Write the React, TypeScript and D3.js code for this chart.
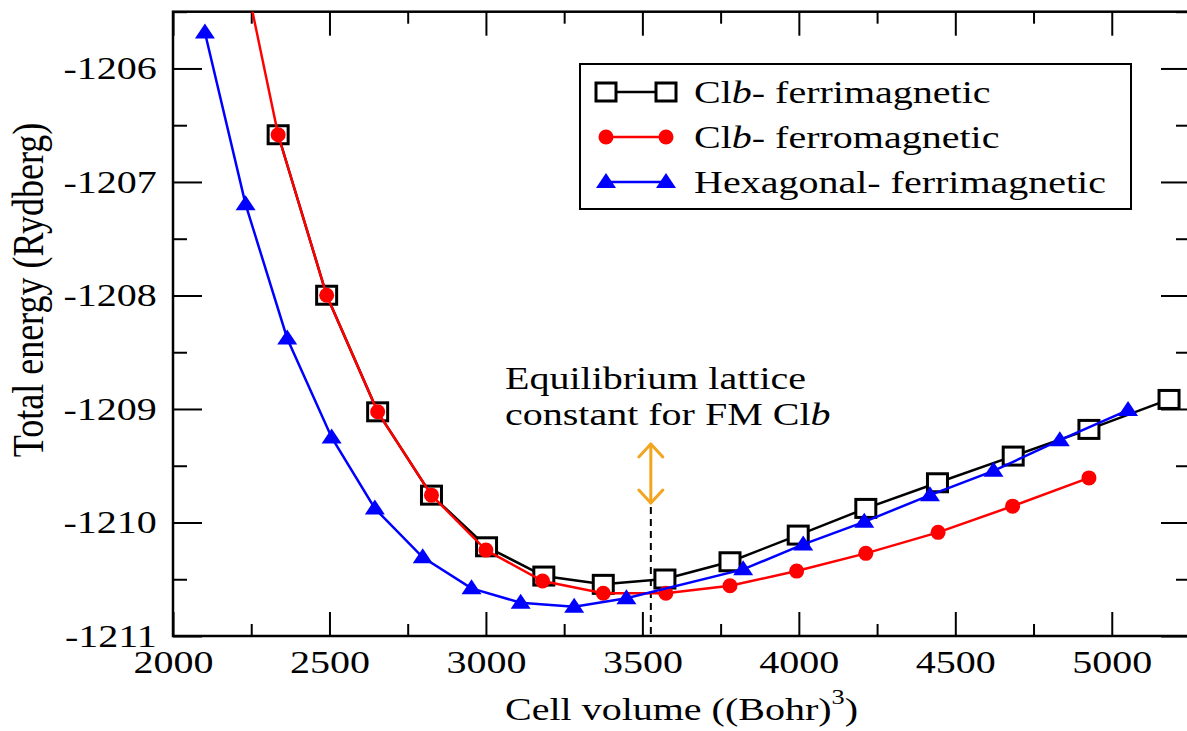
import React, { useEffect, useRef } from 'react';
import * as d3 from 'd3';

// Clb ferrimagnetic (black squares)
const ferriVolume = [2336, 2491, 2654, 2826, 3002, 3185, 3375, 3572, 3780, 3998, 4214, 4443, 4685, 4927, 5183];
const ferriEnergy = [-1206.584, -1207.998, -1209.025, -1209.759, -1210.214, -1210.472, -1210.545, -1210.498, -1210.346, -1210.111, -1209.876, -1209.65, -1209.415, -1209.18, -1208.916];

// Clb ferromagnetic (red circles)
const ferroVolume = [2170, 2336, 2491, 2654, 2826, 3000, 3181, 3375, 3575, 3780, 3993, 4214, 4445, 4683, 4927];
const ferroEnergy = [-1204.39, -1206.584, -1207.998, -1209.025, -1209.759, -1210.243, -1210.516, -1210.624, -1210.624, -1210.557, -1210.428, -1210.272, -1210.087, -1209.856, -1209.607];

// Hexagonal ferrimagnetic (blue triangles)
const hexVolume = [2102, 2232, 2365, 2507, 2645, 2798, 2954, 3111, 3282, 3449, 3822, 4014, 4209, 4419, 4622, 4834, 5052];
const hexEnergy = [-1205.683, -1207.197, -1208.379, -1209.251, -1209.876, -1210.307, -1210.58, -1210.707, -1210.742, -1210.668, -1210.413, -1210.193, -1209.994, -1209.759, -1209.545, -1209.275, -1209.01];

const xMajor = [2000, 2500, 3000, 3500, 4000, 4500, 5000];
const xMinor = [2250, 2750, 3250, 3750, 4250, 4750];
const yMajor = [-1211, -1210, -1209, -1208, -1207, -1206];
const yMinor = [-1210.5, -1209.5, -1208.5, -1207.5, -1206.5, -1205.5];

const equilibriumVolume = 3527;

const FONT = '"Liberation Serif", "Times New Roman", serif';
const STRETCH = 'scale(1.25,1)';

type Pt = { v: number; e: number };

const App: React.FC = () => {
  const ref = useRef<SVGSVGElement | null>(null);

  useEffect(() => {
    if (!ref.current) return;
    const svg = d3.select(ref.current);
    svg.selectAll('*').remove();

    const left = 173, right = 1190, top = 11.7, bottom = 636;
    const x = d3.scaleLinear().domain([2000, 5250]).range([left, right]);
    const y = d3.scaleLinear().domain([-1211, -1205.5]).range([bottom, top]);

    svg.append('defs').append('clipPath').attr('id', 'plot-clip')
      .append('rect').attr('x', left).attr('y', top).attr('width', right - left).attr('height', bottom - top);

    // axes: ticks on all four sides, labels only bottom/left
    const styleAxis = (g: d3.Selection<SVGGElement, unknown, null, undefined>) => {
      g.select('.domain').remove();
      g.selectAll('.tick line').attr('stroke', '#000').attr('stroke-width', 2);
      g.selectAll('text')
        .attr('transform', STRETCH)
        .style('font-family', FONT)
        .style('font-size', '32px')
        .attr('fill', '#000');
    };
    const plain = (d: d3.NumberValue) => String(d);

    svg.append('g').attr('transform', `translate(0,${bottom})`)
      .call(d3.axisBottom(x).tickValues(xMajor).tickSize(-24).tickPadding(14).tickFormat(plain))
      .call(styleAxis);
    svg.append('g').attr('transform', `translate(0,${bottom})`)
      .call(d3.axisBottom(x).tickValues(xMinor).tickSize(-12).tickFormat(() => ''))
      .call(styleAxis);
    svg.append('g').attr('transform', `translate(0,${top})`)
      .call(d3.axisTop(x).tickValues(xMajor).tickSize(-24).tickFormat(() => ''))
      .call(styleAxis);
    svg.append('g').attr('transform', `translate(0,${top})`)
      .call(d3.axisTop(x).tickValues(xMinor).tickSize(-12).tickFormat(() => ''))
      .call(styleAxis);

    svg.append('g').attr('transform', `translate(${left},0)`)
      .call(d3.axisLeft(y).tickValues(yMajor).tickSize(-29).tickPadding(13).tickFormat(plain))
      .call(styleAxis);
    svg.append('g').attr('transform', `translate(${left},0)`)
      .call(d3.axisLeft(y).tickValues(yMinor).tickSize(-14).tickFormat(() => ''))
      .call(styleAxis);
    svg.append('g').attr('transform', `translate(${right},0)`)
      .call(d3.axisRight(y).tickValues(yMajor).tickSize(-29).tickFormat(() => ''))
      .call(styleAxis);
    svg.append('g').attr('transform', `translate(${right},0)`)
      .call(d3.axisRight(y).tickValues(yMinor).tickSize(-14).tickFormat(() => ''))
      .call(styleAxis);

    // frame
    svg.append('rect')
      .attr('x', left).attr('y', top)
      .attr('width', right - left).attr('height', bottom - top)
      .attr('fill', 'none').attr('stroke', '#000').attr('stroke-width', 2.5);

    // dashed equilibrium marker + arrow
    const ex = x(equilibriumVolume);
    svg.append('line')
      .attr('x1', ex).attr('x2', ex).attr('y1', 507).attr('y2', bottom)
      .attr('stroke', '#000').attr('stroke-width', 2).attr('stroke-dasharray', '7,5');
    const orange = '#f2a51f';
    const arrow = svg.append('g').attr('stroke', orange).attr('stroke-width', 3).attr('fill', 'none')
      .attr('stroke-linecap', 'round').attr('stroke-linejoin', 'round');
    arrow.append('line').attr('x1', ex).attr('x2', ex).attr('y1', 444).attr('y2', 503);
    arrow.append('path').attr('d', `M${ex - 12},${457} L${ex},${444} L${ex + 12},${457}`);
    arrow.append('path').attr('d', `M${ex - 12},${490} L${ex},${503} L${ex + 12},${490}`);

    const ann = svg.append('g').style('font-family', FONT).style('font-size', '32px');
    ann.append('text').attr('transform', `translate(505,389) ${STRETCH}`).text('Equilibrium lattice');
    const t2 = ann.append('text').attr('transform', `translate(505,425) ${STRETCH}`);
    t2.append('tspan').text('constant for FM Cl');
    t2.append('tspan').style('font-style', 'italic').text('b');

    // markers
    const drawSquare = (g: any, cx: number, cy: number) =>
      g.append('rect').attr('x', cx - 10).attr('y', cy - 9).attr('width', 20).attr('height', 18)
        .attr('fill', '#fff').attr('stroke', '#000').attr('stroke-width', 3);
    const drawCircle = (g: any, cx: number, cy: number) =>
      g.append('circle').attr('cx', cx).attr('cy', cy).attr('r', 7.5).attr('fill', '#ff0000');
    const drawTri = (g: any, cx: number, cy: number) =>
      g.append('path').attr('d', `M${cx},${cy - 9} L${cx + 10},${cy + 6} L${cx - 10},${cy + 6} Z`).attr('fill', '#0000ff');

    const line = d3.line<Pt>().x((d) => x(d.v)).y((d) => y(d.e));
    const series = [
      { vol: ferriVolume, en: ferriEnergy, color: '#000', marker: drawSquare },
      { vol: ferroVolume, en: ferroEnergy, color: '#ff0000', marker: drawCircle },
      { vol: hexVolume, en: hexEnergy, color: '#0000ff', marker: drawTri },
    ];
    const plot = svg.append('g').attr('clip-path', 'url(#plot-clip)');
    series.forEach((s) => {
      const pts: Pt[] = s.vol.map((v, i) => ({ v, e: s.en[i] }));
      const g = plot.append('g');
      g.append('path').datum(pts).attr('d', line)
        .attr('fill', 'none').attr('stroke', s.color).attr('stroke-width', 2.5);
      pts.forEach((p) => s.marker(g, x(p.v), y(p.e)));
    });

    // legend
    const legend = svg.append('g');
    legend.append('rect').attr('x', 580).attr('y', 64).attr('width', 551).attr('height', 145)
      .attr('fill', '#fff').attr('stroke', '#000').attr('stroke-width', 2);
    const rows = [
      { color: '#000', marker: drawSquare, pre: 'Cl', it: 'b', post: '- ferrimagnetic' },
      { color: '#ff0000', marker: drawCircle, pre: 'Cl', it: 'b', post: '- ferromagnetic' },
      { color: '#0000ff', marker: drawTri, pre: 'Hexagonal- ferrimagnetic', it: '', post: '' },
    ];
    rows.forEach((r, i) => {
      const cy = 92 + i * 45;
      legend.append('line').attr('x1', 606).attr('x2', 666).attr('y1', cy).attr('y2', cy)
        .attr('stroke', r.color).attr('stroke-width', 2.5);
      r.marker(legend, 606, cy);
      r.marker(legend, 666, cy);
      const t = legend.append('text').attr('transform', `translate(694,${cy + 11}) ${STRETCH}`)
        .style('font-family', FONT).style('font-size', '32px');
      t.append('tspan').text(r.pre);
      if (r.it) t.append('tspan').style('font-style', 'italic').text(r.it);
      if (r.post) t.append('tspan').text(r.post);
    });

    // axis titles
    const xt = svg.append('text')
      .attr('transform', `translate(${(left + right) / 2},720) ${STRETCH}`)
      .attr('text-anchor', 'middle')
      .style('font-family', FONT).style('font-size', '32px');
    xt.append('tspan').text('Cell volume ((Bohr)');
    xt.append('tspan').attr('dy', -16).style('font-size', '21px').text('3');
    xt.append('tspan').attr('dy', 16).text(')');

    svg.append('text')
      .attr('transform', 'translate(43,290) rotate(-90) scale(1,1.25)')
      .attr('text-anchor', 'middle')
      .style('font-family', FONT).style('font-size', '36px')
      .text('Total energy (Rydberg)');
  }, []);

  return (
    <svg
      ref={ref}
      width={1187}
      height={731}
      style={{ position: 'absolute', left: 0, top: 0, background: '#fff' }}
    />
  );
};

export default App;
